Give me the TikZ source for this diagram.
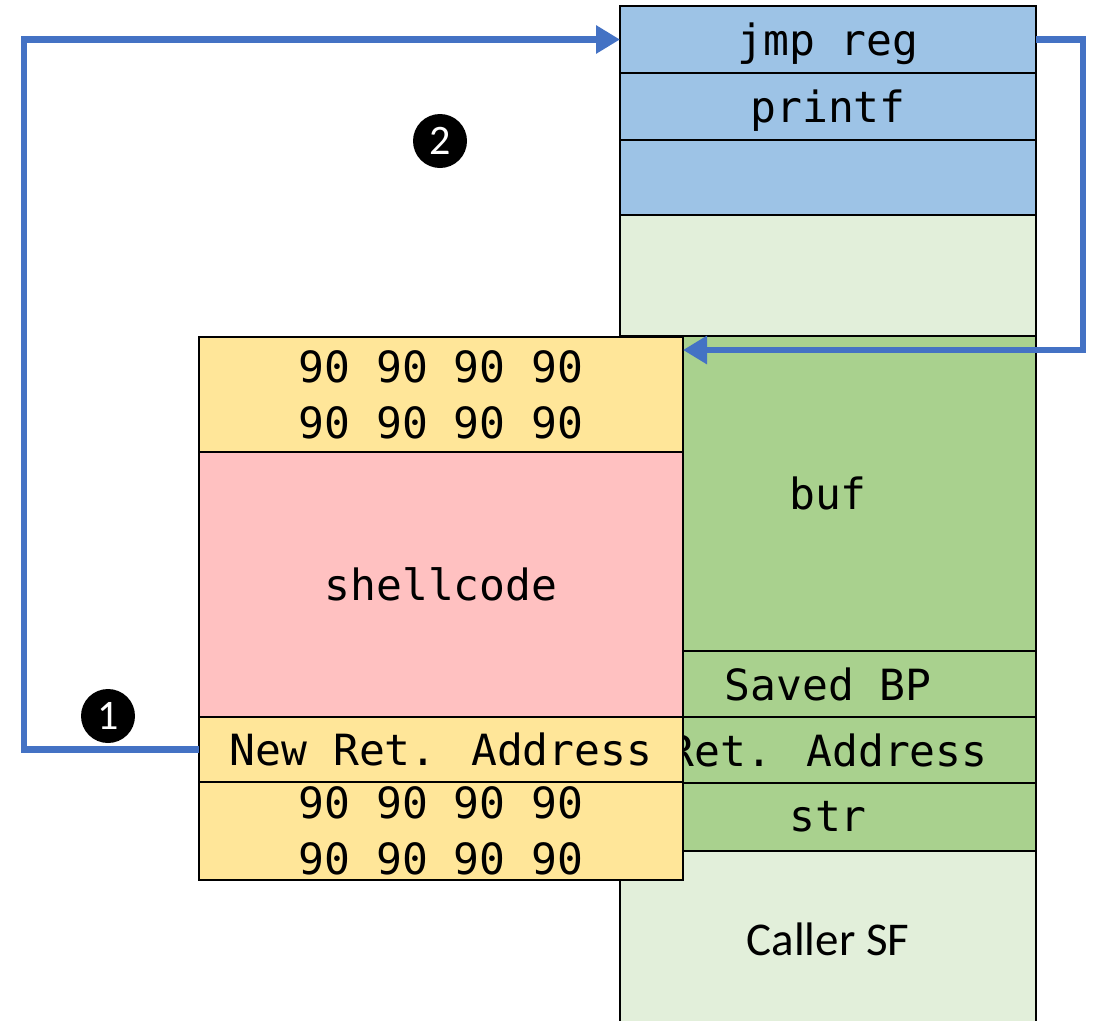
\documentclass[tikz,border=0pt]{standalone}
\usepackage{fontspec}
\newfontfamily\monof{DejaVu Sans Mono}
\newfontfamily\sansf{Carlito}
\usetikzlibrary{arrows.meta}
\definecolor{cblue}{HTML}{9DC3E6}
\definecolor{clgreen}{HTML}{E2EFDA}
\definecolor{cgreen}{HTML}{A9D18E}
\definecolor{cyellow}{HTML}{FFE699}
\definecolor{cpink}{HTML}{FFC1C1}
\definecolor{arrowblue}{HTML}{4472C4}
\begin{document}
\begin{tikzpicture}[x=1pt,y=-1pt,
  cell/.style={draw=black,line width=2pt,inner sep=0pt,outer sep=0pt,anchor=north west,
    font=\monof\fontsize{43}{56}\selectfont,align=center},
  flow/.style={draw=arrowblue,line width=6.5pt,-{Triangle[length=24pt,width=27pt]}},
  badge/.style={circle,fill=black,text=white,inner sep=0pt,minimum size=54pt,
    font=\sansf\fontsize{42}{42}\selectfont}]
\useasboundingbox (0,0) rectangle (1094,1020);
% right stack
\node[cell,fill=cblue,minimum width=416pt,minimum height=67pt,text depth=0pt] (jmp) at (620,6) {jmp reg};
\node[cell,fill=cblue,minimum width=416pt,minimum height=67pt,text depth=0pt] (printf) at (620,73) {printf};
\node[cell,fill=cblue,minimum width=416pt,minimum height=75pt] (blank) at (620,140) {};
\node[cell,fill=clgreen,minimum width=416pt,minimum height=121pt] (free) at (620,215) {};
\node[cell,fill=cgreen,minimum width=416pt,minimum height=315pt] (buf) at (620,336) {buf};
\node[cell,fill=cgreen,minimum width=416pt,minimum height=66pt] (sbp) at (620,651) {Saved BP};
\node[cell,fill=cgreen,minimum width=416pt,minimum height=66pt] (ret) at (620,717) {Ret. Address};
\node[cell,fill=cgreen,minimum width=416pt,minimum height=68pt] (str) at (620,783) {str};
\node[cell,fill=clgreen,minimum width=416pt,minimum height=176pt,font=\sansf\fontsize{47}{50}\selectfont] (caller) at (620,851) {Caller SF};
% overlay stack
\node[cell,fill=cyellow,minimum width=484pt,minimum height=115pt] (nop1) at (199,337) {90 90 90 90\\90 90 90 90};
\node[cell,fill=cpink,minimum width=484pt,minimum height=265pt] (shell) at (199,452) {shellcode};
\node[cell,fill=cyellow,minimum width=484pt,minimum height=65pt] (newret) at (199,717) {New Ret. Address};
\node[cell,fill=cyellow,minimum width=484pt,minimum height=98pt] (nop2) at (199,782) {90 90 90 90\\90 90 90 90};
% arrows
\coordinate (L) at (24,0);
\coordinate (R) at (1083,0);
\coordinate (T) at ([yshift=-13pt]nop1.north east);
\draw[flow] (newret.west) -- (newret.west -| L) |- (jmp.west);
\draw[flow] (jmp.east) -- (jmp.east -| R) |- (T);
% badges
\node[badge] (b1) at (108,716) {1};
\node[badge] (b2) at (440,141) {2};
\end{tikzpicture}
\end{document}
